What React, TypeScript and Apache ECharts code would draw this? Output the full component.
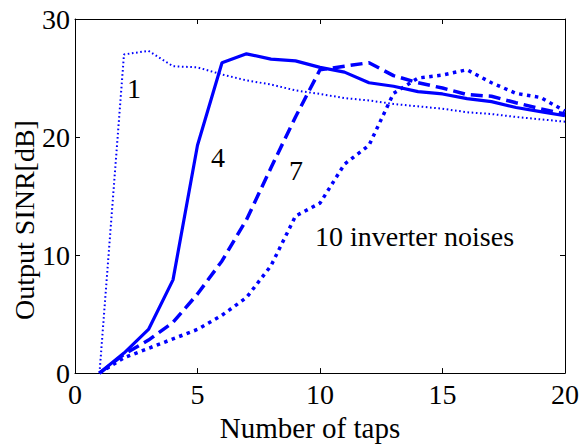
import React, { useEffect, useRef } from "react";
import * as echarts from "echarts";

const taps = [1, 2, 3, 4, 5, 6, 7, 8, 9, 10, 11, 12, 13, 14, 15, 16, 17, 18, 19, 20];
const noise1 = [0, 27.0, 27.3, 26.0, 25.9, 25.3, 24.8, 24.45, 23.95, 23.65, 23.3, 23.1, 22.8, 22.6, 22.4, 22.1, 21.95, 21.7, 21.5, 21.3];
const noise4 = [0, 1.7, 3.7, 7.9, 19.3, 26.3, 27.05, 26.6, 26.45, 25.9, 25.5, 24.6, 24.3, 23.85, 23.65, 23.25, 23.0, 22.5, 22.15, 21.8];
const noise7 = [0, 1.6, 2.8, 4.3, 6.7, 9.5, 13.0, 17.4, 21.7, 25.7, 26.0, 26.3, 25.2, 24.6, 24.15, 23.6, 23.45, 22.9, 22.4, 21.95];
const noise10 = [0, 1.3, 2.1, 2.9, 3.7, 4.9, 6.4, 9.1, 13.3, 14.4, 17.7, 19.3, 23.7, 25.0, 25.25, 25.7, 24.6, 23.7, 23.35, 22.2];

const xTicks = { min: 0, max: 20, interval: 5 };
const yTicks = { min: 0, max: 30, interval: 10 };

const FONT = "Liberation Serif";
const BLUE = "#0000FF";

const pairs = (ys: number[]) => taps.map((t, i) => [t, ys[i]]);

const txt = (text: string, x: number, y: number, align = "center", rotation = 0) => ({
  type: "text",
  x,
  y,
  rotation,
  style: {
    text,
    fontFamily: FONT,
    fontSize: 28,
    fill: "#000",
    align,
    verticalAlign: "middle",
  },
});

export default function App() {
  const ref = useRef<HTMLDivElement>(null);
  useEffect(() => {
    document.body.style.margin = "0";
    if (!ref.current) return;
    const chart = echarts.init(ref.current, undefined, { renderer: "svg" });
    const axisCommon = {
      type: "value" as const,
      splitLine: { show: false },
      axisLine: { show: true, onZero: false, lineStyle: { color: "#000", width: 1 } },
      axisTick: { show: true, inside: true, length: 5, lineStyle: { color: "#000" } },
    };
    const labelStyle = { color: "#000", fontSize: 28, fontFamily: FONT };
    chart.setOption({
      animation: false,
      backgroundColor: "#fff",
      textStyle: { fontFamily: FONT },
      grid: { left: 75, right: 15, top: 19, bottom: 58 },
      xAxis: [
        {
          ...axisCommon,
          ...xTicks,
          position: "bottom",
          axisLabel: { ...labelStyle, margin: 7 },
          name: "Number of taps",
          nameLocation: "middle",
          nameGap: 30,
          nameTextStyle: { ...labelStyle, fontSize: 29, padding: [0, 20, 0, 0] },
        },
        {
          ...axisCommon,
          ...xTicks,
          position: "top",
          axisLabel: { show: false },
        },
      ],
      yAxis: [
        {
          ...axisCommon,
          ...yTicks,
          position: "left",
          axisLabel: { ...labelStyle, margin: 5 },
        },
        {
          ...axisCommon,
          ...yTicks,
          position: "right",
          axisLabel: { show: false },
        },
      ],
      graphic: [
        txt("Output SINR[dB]", 24, 220, "center", Math.PI / 2),
        txt("1", 134, 88),
        txt("4", 218, 157),
        txt("7", 296, 170),
        txt("10 inverter noises", 315, 236, "left"),
      ],
      series: [
        {
          name: "1",
          type: "line",
          data: pairs(noise1),
          symbol: "none",
          lineStyle: { color: BLUE, width: 2, type: [1.6, 2.6], cap: "butt" },
        },
        {
          name: "4",
          type: "line",
          data: pairs(noise4),
          symbol: "none",
          lineStyle: { color: BLUE, width: 3.2, type: "solid" },
        },
        {
          name: "7",
          type: "line",
          data: pairs(noise7),
          symbol: "none",
          lineStyle: { color: BLUE, width: 3.5, type: [12, 6], cap: "butt" },
        },
        {
          name: "10",
          type: "line",
          data: pairs(noise10),
          symbol: "none",
          lineStyle: { color: BLUE, width: 3.5, type: [3.5, 4.5], cap: "butt" },
        },
      ],
    });
    return () => chart.dispose();
  }, []);
  return <div ref={ref} style={{ width: 582, height: 447 }} />;
}
